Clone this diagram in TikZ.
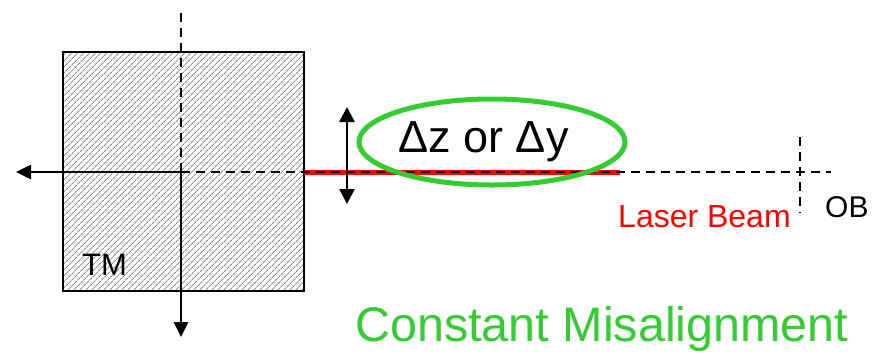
\documentclass[tikz,border=0pt]{standalone}
\usepackage{fontspec}
\setmainfont{Liberation Sans}
\usepackage{tikz}
\usetikzlibrary{arrows.meta, patterns.meta, positioning}
\definecolor{MisGreen}{RGB}{51,204,51}
\definecolor{BeamRed}{RGB}{255,0,0}

\begin{document}
\begin{tikzpicture}[x=1pt, y=-1pt,
        mass/.style={rectangle, draw, line width=2.8pt, minimum width=241pt, minimum height=239pt, pattern={Lines[angle=45, distance=4pt, line width=0.9pt]}, pattern color=black!45},
        axis/.style={draw, line width=2.6pt, -{Triangle[length=15pt, width=14pt]}},
        twoway/.style={draw, line width=2.6pt, {Triangle[length=15pt, width=15pt]}-{Triangle[length=15pt, width=15pt]}},
        guide/.style={draw, line width=2.4pt, dash pattern=on 9pt off 6pt},
        beam/.style={draw, BeamRed, line width=5pt},
        ring/.style={draw, MisGreen, line width=5pt},
        lbl/.style={inner sep=0pt, anchor=base west}]

        \useasboundingbox (0,0) rectangle (874,354);

        % test mass and its axes
        \node [mass] (tm) at (183.5,171.5) {};
        \node [lbl, font=\fontsize{31}{31}\selectfont] (tmlbl) at (82,275) {TM};
        \coordinate (c) at (181,172);
        \coordinate (up) at (181,8);
        \coordinate (left) at (16,172);
        \coordinate (down) at (181,337);
        \path [guide] (c) -- (up);
        \path [axis] (c) -- (left);
        \path [axis] (c) -- (down);

        % beam towards the optical bench
        \coordinate (beamend) at (620,172);
        \coordinate (far) at (831,172);
        \coordinate (obtop) at (800,137);
        \coordinate (obbot) at (800,213);
        \path [beam] (tm.east |- c) -- (beamend);
        \path [guide] (c) -- (far);
        \path [guide] (obtop) -- (obbot);
        \node [lbl, BeamRed, font=\fontsize{32}{32}\selectfont] (beamlbl) at (618,227) {Laser Beam};
        \node [lbl, font=\fontsize{30}{30}\selectfont] (ob) at (825,217) {OB};

        % misalignment
        \coordinate (dtop) at (347,107);
        \coordinate (dbot) at (347,204);
        \path [twoway] (dtop) -- (dbot);
        \node [inner sep=0pt, anchor=base, font=\fontsize{45}{45}\selectfont] (shift) at (483.5,152) {Δz or Δy};
        \draw [ring] (492,142) ellipse [x radius=133, y radius=43];
        \node [lbl, MisGreen, font=\fontsize{48.5}{48.5}\selectfont] (title) at (355,341) {Constant Misalignment};
\end{tikzpicture}
\end{document}
